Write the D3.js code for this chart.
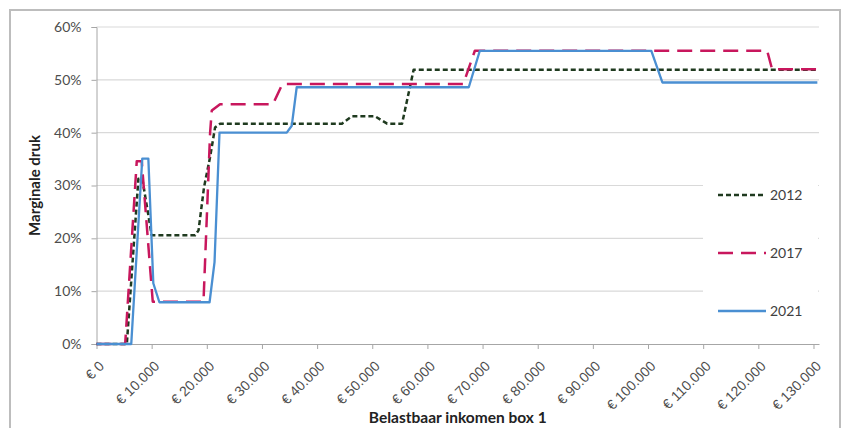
<!DOCTYPE html>
<html><head><meta charset="utf-8">
<script src="https://cdn.jsdelivr.net/npm/d3@7"></script>
<style>body{margin:0;background:#fff}svg{display:block;font-family:Lato,"Open Sans",sans-serif}</style>
</head><body><svg id="c" width="846" height="428"></svg>
<script>
const xTicks = [0,10000,20000,30000,40000,50000,60000,70000,80000,90000,100000,110000,120000,130000];
const yTicks = [0,0.1,0.2,0.3,0.4,0.5,0.6];
const seriesNames = ["2012","2017","2021"];
// [income, marginal rate]
const data2012 = [[0,0],[5500,0],[7600,0.313],[8300,0.313],[10000,0.206],[17900,0.206],[18500,0.215],[19500,0.297],[20600,0.354],[21500,0.41],[22400,0.417],[44500,0.417],[46300,0.431],[50500,0.431],[52700,0.417],[55400,0.417],[57500,0.519],[130700,0.519]];
const data2017 = [[0,0],[5200,0],[7300,0.346],[8200,0.346],[10200,0.08],[19400,0.08],[20600,0.40],[20900,0.442],[22400,0.454],[32000,0.454],[33700,0.492],[66500,0.492],[68600,0.555],[121600,0.555],[122500,0.52],[130700,0.52]];
const data2021 = [[0,0],[6300,0],[8300,0.351],[9400,0.351],[10300,0.115],[11400,0.079],[20500,0.079],[21400,0.155],[22300,0.40],[34500,0.40],[35400,0.413],[36300,0.486],[67500,0.486],[69500,0.555],[100600,0.555],[102600,0.495],[130700,0.495]];

const svg = d3.select("#c");
const x = d3.scaleLinear().domain([0,131000]).range([96.5,819]);
const y = d3.scaleLinear().domain([0,0.6]).range([344,27]);

// outer frame
svg.append("rect").attr("x",10).attr("y",10).attr("width",830).attr("height",430)
  .attr("fill","none").attr("stroke","#bdbdbd").attr("stroke-width",2);

// gridlines
svg.append("g").selectAll("line").data(yTicks.filter(d=>d>0)).join("line")
  .attr("x1",x(0)).attr("x2",x(131000)).attr("y1",d=>y(d)).attr("y2",d=>y(d))
  .attr("stroke","#d9d9d9").attr("stroke-width",1.2);

// y axis
const yAx = svg.append("g").attr("transform",`translate(${x(0)},0)`)
  .call(d3.axisLeft(y).tickValues(yTicks).tickFormat(d=>Math.round(d*100)+"%").tickSize(5).tickPadding(10));
yAx.select(".domain").attr("stroke","#a6a6a6");
yAx.selectAll(".tick line").attr("stroke","#a6a6a6");
yAx.selectAll("text").attr("font-size",14).attr("fill","#4d4d4d").attr("font-family","Lato,sans-serif");

// x axis
const xAx = svg.append("g").attr("transform",`translate(0,${y(0)})`)
  .call(d3.axisBottom(x).tickValues(xTicks).tickSize(5).tickSizeOuter(0)
    .tickFormat(d=>"€ "+(d===0?"0":d3.format(",")(d).replace(/,/g,"."))));
xAx.select(".domain").attr("stroke","#a6a6a6");
xAx.selectAll(".tick line").attr("stroke","#a6a6a6");
xAx.selectAll("text").attr("font-size",14).attr("fill","#4d4d4d")
  .attr("text-anchor","end").attr("dy",0).attr("y",0)
  .attr("transform","translate(8,23) rotate(-45)");

// axis titles
svg.append("text").attr("x",(x(0)+x(131000))/2).attr("y",423).attr("text-anchor","middle")
  .attr("font-size",15.5).attr("font-weight","bold").attr("fill","#222").text("Belastbaar inkomen box 1");
svg.append("text").attr("transform",`translate(40,${(y(0)+y(0.6))/2}) rotate(-90)`).attr("text-anchor","middle")
  .attr("font-size",15).attr("font-weight","bold").attr("fill","#222").text("Marginale druk");

// legend background
svg.append("rect").attr("x",703).attr("y",168).attr("width",115).attr("height",162).attr("fill","#fff");

const styles = {
  "2012":{color:"#1f3a1f",dash:"5,3",w:2.5},
  "2017":{color:"#c8175d",dash:"15,8",w:2.5},
  "2021":{color:"#4a8fd2",dash:null,w:2.3}
};
const all = {"2012":data2012,"2017":data2017,"2021":data2021};
const line = d3.line().x(d=>x(d[0])).y(d=>y(d[1]));
seriesNames.forEach(n=>{
  svg.append("path").attr("d",line(all[n])).attr("fill","none")
    .attr("stroke",styles[n].color).attr("stroke-width",styles[n].w)
    .attr("stroke-dasharray",styles[n].dash).attr("stroke-linejoin","round");
});

// legend
const ly = [195,253,311];
seriesNames.forEach((n,i)=>{
  svg.append("line").attr("x1",718).attr("x2",766).attr("y1",ly[i]).attr("y2",ly[i])
    .attr("stroke",styles[n].color).attr("stroke-width",styles[n].w)
    .attr("stroke-dasharray",styles[n].dash);
  svg.append("text").attr("x",770).attr("y",ly[i]).attr("dy","0.35em")
    .attr("font-size",14).attr("fill","#404040").text(n);
});
</script></body></html>
